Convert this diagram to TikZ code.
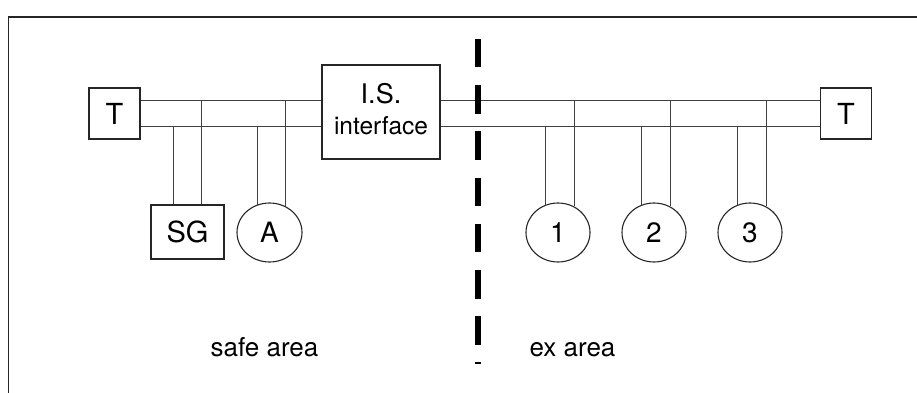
\documentclass[tikz,border=0pt]{standalone}
\usepackage{fontspec}
\setmainfont{TeX Gyre Heros}
\usetikzlibrary{shapes.geometric}
\tikzset{
  unitbox/.style={draw=black!85, line width=1.1pt, minimum width=51pt, minimum height=51pt, inner sep=0pt, font=\fontsize{29}{31}\selectfont},
  devcirc/.style={ellipse, draw=black!85, line width=1.1pt, minimum width=64pt, minimum height=59pt, inner sep=0pt, font=\fontsize{28}{31}\selectfont},
  busline/.style={black!75, line width=0.9pt},
  zoneline/.style={line width=5.5pt, dash pattern=on 28.5pt off 17.7pt},
  arealabel/.style={anchor=base, font=\fontsize{26}{31}\selectfont},
}

\begin{document}
\begin{tikzpicture}[x=1pt, y=-1pt]
			%%%%% START %%%%%
			\useasboundingbox (0,0) rectangle (917,393);
			\draw[line width=1.4pt, black!85] (8.5,393) -- (8.5,17) -- (917,17);
			
			\coordinate (up) at (0,100);
			\coordinate (lo) at (0,126);
			
			\node[unitbox] (Tl) at (114.5,113.5) {T};
			\node[unitbox, minimum width=118pt, minimum height=94pt] (IS) at (381,112) {};
			\node[anchor=base, font=\fontsize{27}{31}\selectfont] (ISa) at (381,103) {I.S.};
			\node[anchor=base, font=\fontsize{24.5}{31}\selectfont] (ISb) at (381,134) {interface};
			\node[unitbox] (Tr) at (846,113.5) {T};
			
			\node[unitbox, minimum width=73pt, minimum height=54pt] (SG) at (187.5,232) {SG};
			\node[devcirc, minimum width=65pt] (A) at (269.5,232.5) {A};
			\node[devcirc] (d1) at (558,232.5) {1};
			\node[devcirc] (d2) at (654,232.5) {2};
			\node[devcirc] (d3) at (750,232.5) {3};
			
			\draw[busline] (Tl.east |- up) -- (IS.west |- up);
			\draw[busline] (Tl.east |- lo) -- (IS.west |- lo);
			\draw[busline] (IS.east |- up) -- (Tr.west |- up);
			\draw[busline] (IS.east |- lo) -- (Tr.west |- lo);
			
			\draw[busline] ([xshift=-14.5pt]SG.north) -- ([xshift=-14.5pt]SG.north |- lo);
			\draw[busline] ([xshift=13.5pt]SG.north) -- ([xshift=13.5pt]SG.north |- up);
			\foreach \dev in {A,d1,d2,d3}{
				\draw[busline] (\dev.114) -- (\dev.114 |- lo);
				\draw[busline] (\dev.58) -- (\dev.58 |- up);
			}
			
			\draw[zoneline] (478,39) -- (478,363.5);
			
			\node[arealabel] (safe) at (264.5,356) {safe area};
			\node[arealabel] (ex) at (572.5,356) {ex area};
			%%%%% END %%%%%
\end{tikzpicture}
\end{document}
